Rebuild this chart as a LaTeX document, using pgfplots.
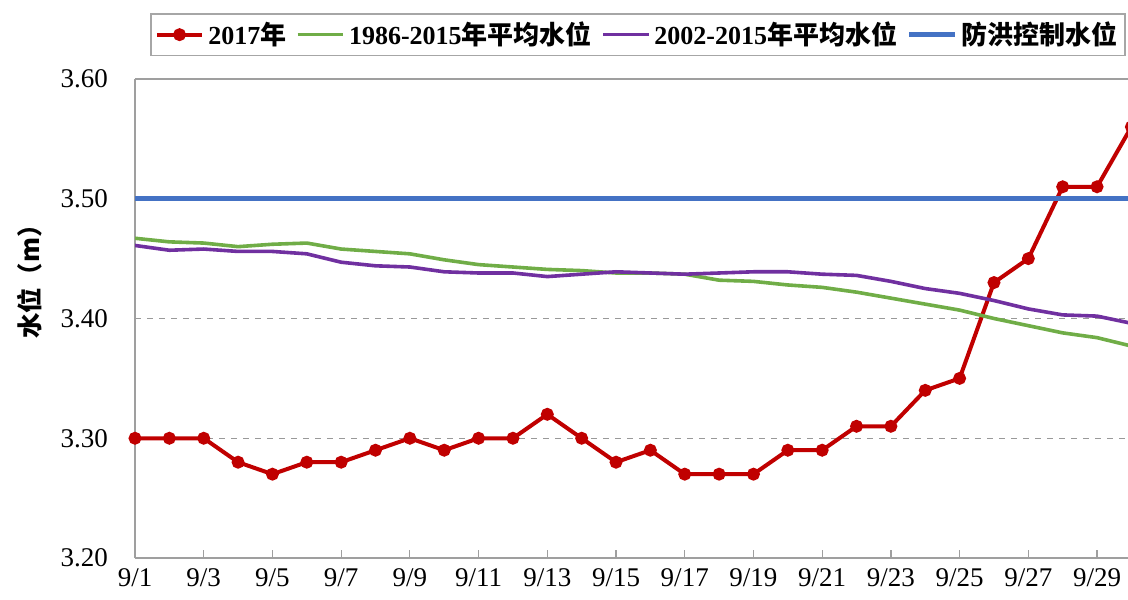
\documentclass[border=0pt]{standalone}
\usepackage{fontspec}
\setmainfont{Liberation Serif}
\newfontfamily\cjk{Noto Sans CJK SC}
\usepackage{pgfplots}
\pgfplotsset{compat=1.18}
\definecolor{cred}{HTML}{C00000}
\definecolor{cgreen}{HTML}{70AD47}
\definecolor{cpurple}{HTML}{7030A0}
\definecolor{cblue}{HTML}{4472C4}
\begin{document}
\begin{tikzpicture}
\begin{axis}[
  at={(67.5pt,20.5pt)}, anchor=south west,
  scale only axis, width=498.2pt, height=239.5pt,
  xmin=1, xmax=30, ymin=3.2, ymax=3.6,
  axis x line*=box, axis y line*=left,
  axis line style={draw=gray!75, line width=0.6pt},
  xtick={1,3,...,29},
  xticklabels={9/1,9/3,9/5,9/7,9/9,9/11,9/13,9/15,9/17,9/19,9/21,9/23,9/25,9/27,9/29},
  xtick pos=bottom, xtick align=inside,
  x tick style={draw=gray!75, line width=0.6pt}, major tick length=4pt,
  ytick={3.2,3.3,3.4,3.5,3.6},
  yticklabels={3.20,3.30,3.40,3.50,3.60},
  y tick style={draw=none},
  ymajorgrids, y grid style={dashed, gray!80, line width=0.4pt},
  tick label style={font=\fontsize{13.5}{15}\selectfont},
  yticklabel style={anchor=east, xshift=-10pt},
  xticklabel style={yshift=-2pt},
  ylabel={\cjk\bfseries 水位（m）},
  ylabel style={font=\fontsize{12.7}{14}\selectfont, at={(rel axis cs:0,0.5)}, anchor=center, yshift=52.5pt, xshift=21.5pt},
  legend columns=4,
  legend style={draw=gray!70, line width=0.8pt, font=\bfseries\fontsize{13}{15}\selectfont,
    at={(rel axis cs:0,1)}, anchor=north west, xshift=7.5pt, yshift=33pt,
    inner xsep=2pt, inner ysep=2pt,
    /tikz/every even column/.append style={column sep=2.8pt}},
  legend image code/.code={\draw[mark repeat=2,mark phase=2] plot coordinates {(0cm,0cm)(0.4cm,0cm)(0.8cm,0cm)};},
  clip=true,
]
\addplot[cred, line width=2pt, mark=*, mark size=2.2pt] coordinates {
(1,3.30)(2,3.30)(3,3.30)(4,3.28)(5,3.27)(6,3.28)(7,3.28)(8,3.29)(9,3.30)(10,3.29)
(11,3.30)(12,3.30)(13,3.32)(14,3.30)(15,3.28)(16,3.29)(17,3.27)(18,3.27)(19,3.27)(20,3.29)
(21,3.29)(22,3.31)(23,3.31)(24,3.34)(25,3.35)(26,3.43)(27,3.45)(28,3.51)(29,3.51)(30,3.56)};
\addlegendentry{2017{\cjk 年}}
\addplot[cgreen, line width=1.8pt] coordinates {
(1,3.467)(2,3.464)(3,3.463)(4,3.460)(5,3.462)(6,3.463)(7,3.458)(8,3.456)(9,3.454)(10,3.449)
(11,3.445)(12,3.443)(13,3.441)(14,3.440)(15,3.438)(16,3.438)(17,3.437)(18,3.432)(19,3.431)(20,3.428)
(21,3.426)(22,3.422)(23,3.417)(24,3.412)(25,3.407)(26,3.400)(27,3.394)(28,3.388)(29,3.384)(30,3.377)};
\addlegendentry{1986-2015{\cjk 年平均水位}}
\addplot[cpurple, line width=1.8pt] coordinates {
(1,3.461)(2,3.457)(3,3.458)(4,3.456)(5,3.456)(6,3.454)(7,3.447)(8,3.444)(9,3.443)(10,3.439)
(11,3.438)(12,3.438)(13,3.435)(14,3.437)(15,3.439)(16,3.438)(17,3.437)(18,3.438)(19,3.439)(20,3.439)
(21,3.437)(22,3.436)(23,3.431)(24,3.425)(25,3.421)(26,3.415)(27,3.408)(28,3.403)(29,3.402)(30,3.396)};
\addlegendentry{2002-2015{\cjk 年平均水位}}
\addplot[cblue, line width=2.5pt] coordinates {(1,3.50)(30,3.50)};
\addlegendentry{{\cjk 防洪控制水位}}
\end{axis}
\pgfresetboundingbox
\useasboundingbox (0,0) rectangle (564pt,299.5pt);
\end{tikzpicture}
\end{document}
